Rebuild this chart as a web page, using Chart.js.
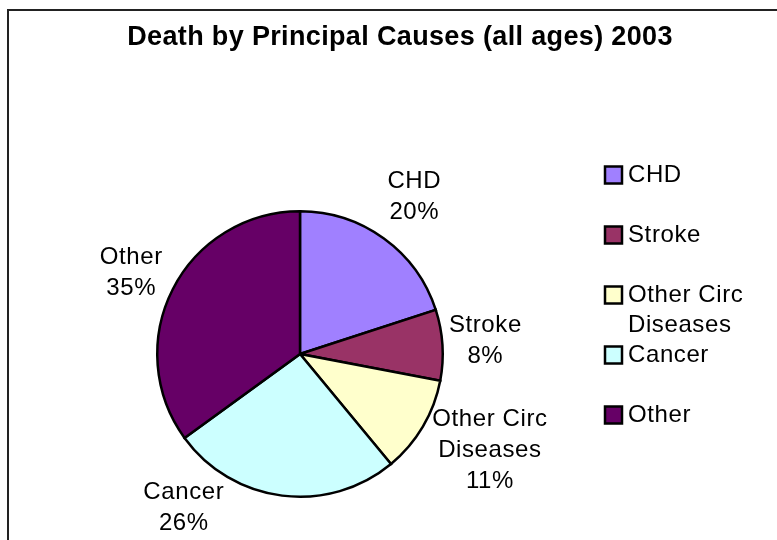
<!DOCTYPE html>
<html>
<head>
<meta charset="utf-8">
<script src="https://cdn.jsdelivr.net/npm/chart.js@4.4.0/dist/chart.umd.min.js"></script>
<style>
body{margin:0;background:#fff;}
</style>
</head>
<body>
<canvas id="myChart" width="777" height="540"></canvas>
<script>
// data
var causes=['CHD','Stroke','Other Circ Diseases','Cancer','Other'];
var causeLines=[['CHD'],['Stroke'],['Other Circ','Diseases'],['Cancer'],['Other']];
var shares=[20,8,11,26,35];
var colours=['#a080ff','#993366','#ffffcc','#ccffff','#660066'];

var FONT='"Liberation Sans", Arial, sans-serif';

// white background + the cut-off frame (top and left only)
var frame={
    id:'frame',
    beforeDraw:function(chart){
        var c=chart.ctx;
        c.save();
        c.fillStyle='#fff';
        c.fillRect(0,0,chart.width,chart.height);
        c.strokeStyle='#222';
        c.lineWidth=2;
        c.beginPath();
        c.moveTo(8,chart.height);
        c.lineTo(8,10);
        c.lineTo(chart.width,10);
        c.stroke();
        c.restore();
    }
};

// name + percent next to each slice
var sliceLabels={
    id:'sliceLabels',
    afterDatasetsDraw:function(chart,args,opts){
        var c=chart.ctx;
        var meta=chart.getDatasetMeta(0);
        c.save();
        c.font=opts.size+'px '+FONT;
        c.letterSpacing='0.6px';
        c.fillStyle='#000';
        c.textAlign='center';
        c.textBaseline='middle';
        meta.data.forEach(function(arc,i){
            var p=arc.getProps(['x','y','startAngle','endAngle','outerRadius']);
            var mid=(p.startAngle+p.endAngle)/2;
            var x=p.x+Math.cos(mid)*(p.outerRadius+opts.distance)+opts.nudge[i][0];
            var y=p.y+Math.sin(mid)*(p.outerRadius+opts.distance)+opts.nudge[i][1];
            var lines=causeLines[i].concat([shares[i]+'%']);
            var top=y-(lines.length-1)*opts.lineHeight/2;
            lines.forEach(function(t,k){
                c.fillText(t,x,top+k*opts.lineHeight);
            });
        });
        c.restore();
    }
};

// title and the legend on the right
var extras={
    id:'extras',
    afterDraw:function(chart,args,opts){
        var c=chart.ctx;
        c.save();
        c.fillStyle='#000';
        c.font='bold 27px '+FONT;
        c.letterSpacing='0.35px';
        c.textAlign='center';
        c.textBaseline='alphabetic';
        c.fillText('Death by Principal Causes (all ages) 2003',400,45);

        c.font=opts.size+'px '+FONT;
        c.letterSpacing='0.6px';
        c.textAlign='left';
        c.textBaseline='middle';
        causes.forEach(function(name,i){
            var y=opts.top+i*opts.row;
            c.fillStyle=colours[i];
            c.fillRect(opts.left,y-8.5,17,17);
            c.strokeStyle='#000';
            c.lineWidth=2.5;
            c.strokeRect(opts.left,y-8.5,17,17);
            c.fillStyle='#000';
            causeLines[i].forEach(function(t,k){
                c.fillText(t,opts.left+23,y+k*30);
            });
        });
        c.restore();
    }
};

var chartdata={
    labels:causes,
    datasets:[
        {
            data:shares,
            backgroundColor:colours,
            borderColor:'#000',
            borderWidth:2.5
        }
    ]
};

var options={
    responsive:false,
    animation:false,
    layout:{
        padding:{left:156,right:333,top:210,bottom:42}
    },
    plugins:{
        legend:{display:false},
        title:{display:false},
        tooltip:{enabled:false},
        sliceLabels:{
            size:24,
            lineHeight:31,
            distance:50,
            nudge:[[1,-1],[-7,-1],[24,-2],[-92,-37],[3,6]]
        },
        extras:{
            size:24,
            left:605,
            top:175,
            row:60
        }
    },
    elements:{
        arc:{borderJoinStyle:'miter'}
    }
};

var graph=new Chart(document.getElementById('myChart'),{
    type:'pie',
    data:chartdata,
    options:options,
    plugins:[frame,sliceLabels,extras]
});
</script>
</body>
</html>
